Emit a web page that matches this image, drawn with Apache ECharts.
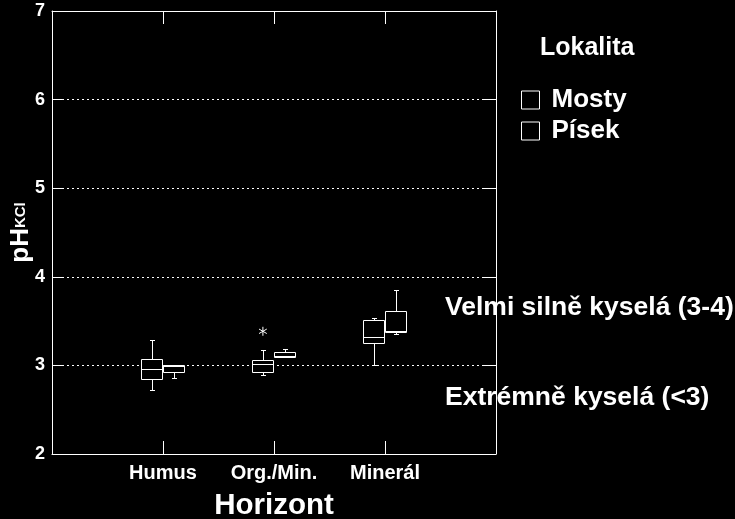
<!DOCTYPE html>
<html>
<head>
<meta charset="utf-8">
<script src="https://cdn.jsdelivr.net/npm/echarts@6/dist/echarts.min.js"></script>
<style>
html,body{margin:0;padding:0;background:#000;}
#chart{width:735px;height:519px;}
</style>
</head>
<body>
<div id="chart"></div>
<script>
// ---- data ----
const categories = ['Humus', 'Org./Min.', 'Minerál'];
const seriesNames = ['Mosty', 'Písek'];
// [min, Q1, median, Q3, max] per category
const mostyBox = [
  [2.72, 2.85, 2.96, 3.075, 3.29],
  [2.89, 2.92, 3.02, 3.06, 3.17],
  [3.00, 3.255, 3.32, 3.51, 3.54]
];
const pisekBox = [
  [2.86, 2.92, 2.99, 3.00, 3.00],
  [3.095, 3.10, 3.11, 3.155, 3.19],
  [3.36, 3.375, 3.385, 3.617, 3.85]
];
// outliers: [category index, value]
const mostyOutliers = [[1, 3.385]];
const pisekOutliers = [];
const yTicks = [2, 3, 4, 5, 6, 7];
const annotations = ['Velmi silně kyselá (3-4)', 'Extrémně kyselá (<3)'];
const legendTitle = 'Lokalita';

const FONT = '"Liberation Sans", Arial, sans-serif';
const WHITE = '#ffffff';

function crisp(v) { return Math.round(v) + 0.5; }

function boxRender(side) {
  return function (params, api) {
    const pos = api.value(0);
    const mn = api.value(1), q1 = api.value(2), md = api.value(3), q3 = api.value(4), mx = api.value(5);
    const x0 = side < 0 ? pos - 0.2 : pos;
    const x1 = side < 0 ? pos : pos + 0.2;
    const xc = (x0 + x1) / 2;
    const L = crisp(api.coord([x0, 0])[0]);
    const R = crisp(api.coord([x1, 0])[0]) - 1;
    const C = crisp(api.coord([xc, 0])[0]);
    const yMin = crisp(api.coord([xc, mn])[1]);
    const yQ1 = crisp(api.coord([xc, q1])[1]);
    const yMd = crisp(api.coord([xc, md])[1]);
    const yQ3 = crisp(api.coord([xc, q3])[1]);
    const yMax = crisp(api.coord([xc, mx])[1]);
    const st = { stroke: WHITE, lineWidth: 1, fill: null };
    const cap = 2.5;
    return {
      type: 'group',
      children: [
        { type: 'line', shape: { x1: C, y1: yQ3, x2: C, y2: yMax }, style: st },
        { type: 'line', shape: { x1: C - cap, y1: yMax, x2: C + cap, y2: yMax }, style: st },
        { type: 'line', shape: { x1: C, y1: yQ1, x2: C, y2: yMin }, style: st },
        { type: 'line', shape: { x1: C - cap, y1: yMin, x2: C + cap, y2: yMin }, style: st },
        { type: 'rect', shape: { x: L, y: yQ3, width: R - L, height: yQ1 - yQ3 },
          style: { stroke: WHITE, lineWidth: 1, fill: '#000' } },
        { type: 'line', shape: { x1: L, y1: yMd, x2: R, y2: yMd }, style: st }
      ]
    };
  };
}

function outlierRender(side) {
  return function (params, api) {
    const pos = api.value(0) + side * 0.1;
    const p = api.coord([pos, api.value(1)]);
    const r = 4.5;
    const st = { stroke: WHITE, lineWidth: 1 };
    const a = Math.PI / 6;
    return {
      type: 'group',
      children: [
        { type: 'line', shape: { x1: p[0], y1: p[1] - r, x2: p[0], y2: p[1] + r }, style: st },
        { type: 'line', shape: { x1: p[0] - r * Math.cos(a), y1: p[1] - r * Math.sin(a), x2: p[0] + r * Math.cos(a), y2: p[1] + r * Math.sin(a) }, style: st },
        { type: 'line', shape: { x1: p[0] - r * Math.cos(a), y1: p[1] + r * Math.sin(a), x2: p[0] + r * Math.cos(a), y2: p[1] - r * Math.sin(a) }, style: st }
      ]
    };
  };
}

const mostyData = mostyBox.map((b, i) => [i + 1].concat(b));
const pisekData = pisekBox.map((b, i) => [i + 1].concat(b));
const mostyOutData = mostyOutliers.map(o => [o[0] + 1, o[1]]);
const pisekOutData = pisekOutliers.map(o => [o[0] + 1, o[1]]);

const chart = echarts.init(document.getElementById('chart'), null, { renderer: 'canvas' });

const legendItemStyle = { color: '#000', borderColor: WHITE, borderWidth: 1 };

chart.setOption({
  backgroundColor: '#000',
  animation: false,
  textStyle: { fontFamily: FONT },
  grid: { left: 52, right: 239, top: 11, bottom: 65, containLabel: false, outerBoundsMode: 'none' },
  legend: {
    orient: 'vertical', left: 521, top: 87, padding: 0, itemWidth: 18, itemHeight: 18, itemGap: 5,
    icon: 'rect', selectedMode: false,
    textStyle: { color: WHITE, fontSize: 26, fontWeight: 'bold', fontFamily: FONT, padding: [0, 0, 0, 7] },
    data: seriesNames.map(n => ({ name: n, itemStyle: legendItemStyle }))
  },
  xAxis: [
    {
      type: 'value', position: 'bottom', min: 0, max: categories.length + 1, interval: 1,
      axisLine: { show: true, lineStyle: { color: WHITE, width: 1 } },
      axisTick: { show: true, inside: true, length: 13, lineStyle: { color: WHITE } },
      axisLabel: {
        color: WHITE, fontSize: 20, fontWeight: 'bold', fontFamily: FONT, margin: 9,
        formatter: v => categories[v - 1] || ''
      },
      splitLine: { show: false },
      name: 'Horizont', nameLocation: 'middle', nameGap: 37, nameMoveOverlap: false,
      nameTextStyle: { color: WHITE, fontSize: 29.5, fontWeight: 'bold', fontFamily: FONT }
    },
    {
      type: 'value', position: 'top', min: 0, max: categories.length + 1, interval: 1,
      axisLine: { show: true, onZero: false, lineStyle: { color: WHITE, width: 1 } },
      axisTick: { show: true, inside: true, length: 13, lineStyle: { color: WHITE } },
      axisLabel: { show: false }, splitLine: { show: false }
    }
  ],
  yAxis: [
    {
      type: 'value', position: 'left', min: yTicks[0], max: yTicks[yTicks.length - 1], interval: 1,
      axisLine: { show: true, onZero: false, lineStyle: { color: WHITE, width: 1 } },
      axisTick: { show: true, inside: true, length: 11, lineStyle: { color: WHITE } },
      axisLabel: { color: WHITE, fontSize: 18, fontWeight: 'bold', fontFamily: FONT, margin: 7 },
      splitLine: { show: true, lineStyle: { color: WHITE, width: 1, type: [2, 3] } },
      name: '{a|pH}{b|KCl}', nameLocation: 'middle', nameGap: 18, nameRotate: 90, nameMoveOverlap: false,
      nameTextStyle: {
        color: WHITE, fontFamily: FONT,
        rich: {
          a: { fontSize: 26, fontWeight: 'bold', color: WHITE, fontFamily: FONT },
          b: { fontSize: 15, fontWeight: 'bold', color: WHITE, fontFamily: FONT }
        }
      }
    },
    {
      type: 'value', position: 'right', min: yTicks[0], max: yTicks[yTicks.length - 1], interval: 1,
      axisLine: { show: true, onZero: false, lineStyle: { color: WHITE, width: 1 } },
      axisTick: { show: true, inside: true, length: 14, lineStyle: { color: WHITE } },
      axisLabel: { show: false }, splitLine: { show: false }
    }
  ],
  graphic: [
    { type: 'text', x: 540, y: 48, silent: true,
      style: { text: legendTitle, fill: WHITE, font: 'bold 25px ' + FONT, textAlign: 'left', verticalAlign: 'middle' } },
    { type: 'text', x: 445, y: 307.5, silent: true,
      style: { text: annotations[0], fill: WHITE, font: 'bold 26.5px ' + FONT, textAlign: 'left', verticalAlign: 'middle' } },
    { type: 'text', x: 445, y: 397.5, silent: true,
      style: { text: annotations[1], fill: WHITE, font: 'bold 26.5px ' + FONT, textAlign: 'left', verticalAlign: 'middle' } }
  ],
  series: [
    { name: seriesNames[0], type: 'custom', xAxisIndex: 0, yAxisIndex: 0, renderItem: boxRender(-1),
      itemStyle: legendItemStyle, encode: { x: 0, y: [1, 2, 3, 4, 5] }, data: mostyData, z: 5 },
    { name: seriesNames[1], type: 'custom', xAxisIndex: 0, yAxisIndex: 0, renderItem: boxRender(1),
      itemStyle: legendItemStyle, encode: { x: 0, y: [1, 2, 3, 4, 5] }, data: pisekData, z: 5 },
    { name: seriesNames[0], type: 'custom', xAxisIndex: 0, yAxisIndex: 0, renderItem: outlierRender(-1),
      encode: { x: 0, y: 1 }, data: mostyOutData, z: 5 },
    { name: seriesNames[1], type: 'custom', xAxisIndex: 0, yAxisIndex: 0, renderItem: outlierRender(1),
      encode: { x: 0, y: 1 }, data: pisekOutData, z: 5 }
  ]
});
</script>
</body>
</html>
